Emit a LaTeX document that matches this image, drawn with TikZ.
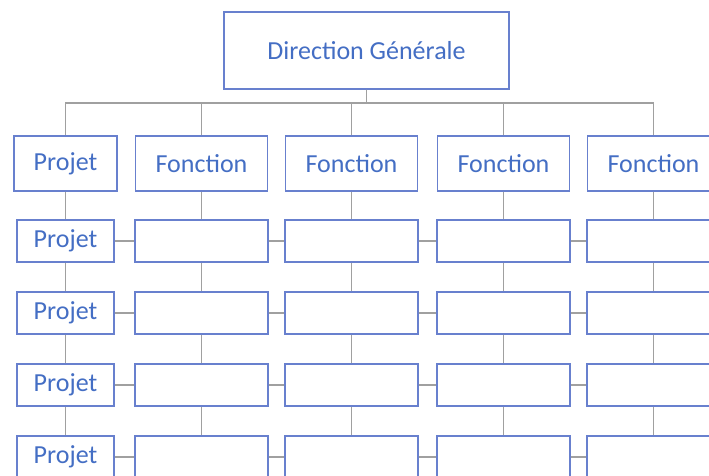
\documentclass[tikz,border=0pt]{standalone}
\usepackage{fontspec}
\setmainfont{Carlito}
\usepackage{xcolor}
\usepackage{tikz}
\usetikzlibrary{calc}
\definecolor{orgblue}{RGB}{68, 110, 196}
\definecolor{orgframe}{RGB}{104, 128, 206}
\definecolor{orggrey}{RGB}{160, 160, 160}

\begin{document}
\begin{tikzpicture}[x=1pt, y=-1pt,
    box/.style={draw=orgframe, line width=1.1pt, fill=white, text=orgblue,
        font=\fontsize{26}{30}\selectfont, inner sep=0pt},
    link/.style={draw=orggrey, line width=1.2pt}]
\useasboundingbox (0,0) rectangle (709,475);
\clip (0,0) rectangle (709,475);

% Direction
\node[box, minimum width=285pt, minimum height=77pt] (top) at (366.5,50.5) {Direction Générale};
\coordinate (bus) at (0,103);

% Header row
\node[box, minimum width=103pt, minimum height=55pt] (h1) at (65.5,163.5) {Projet};
\foreach \i/\x in {2/201.5, 3/351.5, 4/503.5, 5/653.5} {
    \node[box, minimum width=132pt, minimum height=55pt] (h\i) at (\x,163.5) {Fonction};
}
\foreach \i in {1,...,5} {
    \draw[link] (top.south) -- (top.south |- bus) -| (h\i.north);
}

% Grid of project rows
\foreach \r/\y in {1/241, 2/313, 3/385, 4/457} {
    \node[box, minimum width=97pt, minimum height=42pt] (r1-\r) at (65.5,\y) {Projet};
    \foreach \i/\x in {2/201.5, 3/351.5, 4/503.5, 5/653.5} {
        \node[box, minimum width=133pt, minimum height=42pt] (r\i-\r) at (\x,\y) {};
    }
}

% Vertical links
\foreach \i in {1,...,5} {
    \draw[link] (h\i.south) -- (r\i-1.north);
    \foreach \r [evaluate=\r as \rr using int(\r+1)] in {1,2,3} {
        \draw[link] (r\i-\r.south) -- (r\i-\rr.north);
    }
}

% Horizontal links
\foreach \r in {1,...,4} {
    \foreach \i [evaluate=\i as \ii using int(\i+1)] in {1,...,4} {
        \draw[link] (r\i-\r.east) -- (r\ii-\r.west);
    }
}
\end{tikzpicture}
\end{document}
